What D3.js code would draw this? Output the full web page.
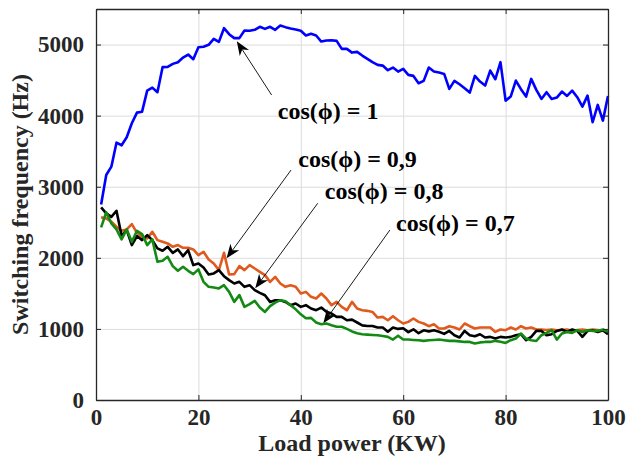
<!DOCTYPE html>
<html>
<head>
<meta charset="utf-8">
<script src="https://cdn.jsdelivr.net/npm/d3@7"></script>
<style>
  body { margin: 0; background: #fff; }
  svg text { font-family: "Liberation Serif", "Times New Roman", serif; font-weight: bold; }
</style>
</head>
<body>
<svg id="chart" width="627" height="466"></svg>
<script>
// load power (KW), one point per kW
var loadPower = d3.range(1, 101);

var xTicks = [0, 20, 40, 60, 80, 100];
var yTicks = [0, 1000, 2000, 3000, 4000, 5000];

// switching frequency (Hz) for each power factor
var fCos10 = [2750, 3165, 3282, 3620, 3583, 3696, 3893, 4042, 4056, 4352,
  4394, 4330, 4682, 4686, 4728, 4752, 4817, 4859, 4794, 4963,
  4968, 4996, 5080, 5038, 5230, 5146, 5090, 5090, 5197, 5193,
  5207, 5250, 5221, 5250, 5207, 5268, 5245, 5225, 5211, 5193,
  5127, 5151, 5127, 5042, 5056, 5061, 5052, 4939, 4939, 4887,
  4897, 4845, 4798, 4752, 4714, 4704, 4639, 4676, 4620, 4658,
  4573, 4559, 4456, 4489, 4676, 4620, 4606, 4587, 4376, 4489,
  4442, 4386, 4324, 4559, 4479, 4423, 4634, 4512, 4752, 4211,
  4268, 4493, 4372, 4268, 4517, 4362, 4235, 4330, 4235, 4254,
  4338, 4277, 4352, 4259, 4127, 4282, 3907, 4151, 3930, 4277];

var fCos09 = [2569, 2555, 2507, 2437, 2380, 2400, 2475, 2352, 2296, 2273,
  2366, 2249, 2225, 2202, 2155, 2179, 2141, 2141, 2118, 2038,
  2085, 1977, 1921, 1827, 2070, 1766, 1770, 1883, 1827, 1897,
  1850, 1803, 1756, 1662, 1732, 1639, 1592, 1615, 1592, 1498,
  1521, 1451, 1428, 1498, 1428, 1334, 1380, 1310, 1263, 1380,
  1287, 1263, 1254, 1239, 1160, 1169, 1122, 1178, 1122, 1076,
  1099, 1146, 1099, 1076, 1038, 1066, 1006, 1006, 1038, 1020,
  992, 1076, 1038, 1006, 1020, 1020, 1020, 958, 992, 982,
  1020, 992, 1038, 1006, 1020, 992, 992, 985, 990, 980,
  985, 990, 975, 985, 990, 980, 990, 985, 975, 960];

var fCos08 = [2709, 2625, 2577, 2662, 2310, 2390, 2179, 2306, 2249, 2320,
  2249, 2132, 2099, 2155, 2070, 2118, 2024, 2108, 1897, 1921,
  1865, 1766, 1780, 1827, 1742, 1686, 1639, 1662, 1592, 1615,
  1545, 1507, 1474, 1380, 1404, 1404, 1380, 1334, 1357, 1310,
  1334, 1287, 1263, 1300, 1240, 1216, 1169, 1169, 1122, 1130,
  1090, 1050, 1040, 1040, 1020, 1020, 960, 1020, 1000, 1010,
  955, 995, 940, 980, 965, 980, 960, 930, 972, 911,
  879, 972, 911, 897, 925, 879, 888, 864, 888, 879,
  888, 911, 925, 841, 888, 972, 972, 911, 925, 972,
  992, 958, 992, 972, 888, 972, 982, 958, 982, 925];

var fCos07 = [2428, 2639, 2484, 2400, 2259, 2400, 2225, 2380, 2334, 2179,
  2259, 1944, 1958, 2014, 1883, 1817, 1873, 1817, 1770, 1837,
  1662, 1592, 1583, 1569, 1615, 1521, 1380, 1475, 1310, 1348,
  1394, 1300, 1239, 1320, 1370, 1404, 1390, 1334, 1275, 1205,
  1150, 1155, 1090, 1066, 1076, 1052, 1030, 1030, 1000, 965,
  940, 925, 920, 915, 911, 900, 888, 850, 905, 850,
  850, 845, 841, 832, 841, 845, 850, 841, 832, 832,
  825, 817, 817, 794, 810, 817, 817, 832, 820, 803,
  841, 864, 935, 864, 841, 830, 911, 944, 982, 850,
  935, 958, 944, 982, 958, 982, 972, 972, 992, 958];

var seriesNames = ["1", "0,9", "0,8", "0,7"];
var seriesColors = ["#0000ff", "#e05a1e", "#000000", "#138a13"];

// annotation arrows: [label x, label y, tail x, tail y, tip x, tip y] in data units
var notes = [
  [35.5, 3950, 34.3, 4290, 27.5, 5048],
  [39.5, 3280, 38.1, 3235, 25.5, 1993],
  [44.7, 2827, 43.3, 2767, 31.1, 1571],
  [58.6, 2377, 57.4, 2391, 44.4, 1079]
];

var svg = d3.select("#chart");
var margin = { top: 9, right: 19, bottom: 66, left: 96 };
var width = 627 - margin.left - margin.right;
var height = 466 - margin.top - margin.bottom;
var axisColor = "#262626";

var g = svg.append("g").attr("transform", "translate(" + margin.left + "," + margin.top + ")");

var x = d3.scaleLinear().domain([0, 100]).range([0, width]);
var y = d3.scaleLinear().domain([0, 5500]).range([height, 0]);

// grid
g.append("g")
  .attr("transform", "translate(0," + height + ")")
  .call(d3.axisBottom(x).tickValues(xTicks).tickSize(-height).tickFormat(""))
  .call(a => a.select(".domain").remove())
  .call(a => a.selectAll("line").attr("stroke", "#dcdcdc").attr("stroke-width", 1));
g.append("g")
  .call(d3.axisLeft(y).tickValues(yTicks).tickSize(-width).tickFormat(""))
  .call(a => a.select(".domain").remove())
  .call(a => a.selectAll("line").attr("stroke", "#dcdcdc").attr("stroke-width", 1));

// series
var allSeries = [fCos10, fCos09, fCos08, fCos07];
var line = d3.line()
  .x((d, i) => x(loadPower[i]))
  .y(d => y(d));

g.selectAll(".series")
  .data(allSeries)
  .enter()
  .append("path")
  .attr("class", "series")
  .attr("d", d => line(d))
  .attr("fill", "none")
  .attr("stroke", (d, i) => seriesColors[i])
  .attr("stroke-width", 2.6)
  .attr("stroke-linejoin", "round");

// axes with inward ticks, box on all sides
function styleAxis(a) {
  a.select(".domain").attr("stroke", axisColor).attr("stroke-width", 1.3);
  a.selectAll(".tick line").attr("stroke", axisColor);
  a.selectAll("text").attr("fill", axisColor).style("font-size", "23px");
}

g.append("g")
  .attr("transform", "translate(0," + height + ")")
  .call(d3.axisBottom(x).tickValues(xTicks).tickSize(-5).tickSizeOuter(0).tickPadding(9).tickFormat(d3.format("d")))
  .call(styleAxis);
g.append("g")
  .call(d3.axisTop(x).tickValues(xTicks).tickSize(-5).tickSizeOuter(0).tickFormat(""))
  .call(styleAxis);
g.append("g")
  .call(d3.axisLeft(y).tickValues(yTicks).tickSize(-5).tickSizeOuter(0).tickPadding(12).tickFormat(d3.format("d")))
  .call(styleAxis);
g.append("g")
  .attr("transform", "translate(" + width + ",0)")
  .call(d3.axisRight(y).tickValues(yTicks).tickSize(-5).tickSizeOuter(0).tickFormat(""))
  .call(styleAxis);

// axis titles
svg.append("text")
  .attr("x", margin.left + width / 2)
  .attr("y", 451)
  .attr("text-anchor", "middle")
  .attr("fill", axisColor)
  .style("font-size", "24px")
  .text("Load power (KW)");

svg.append("text")
  .attr("transform", "translate(28," + (margin.top + height / 2) + ") rotate(-90)")
  .attr("text-anchor", "middle")
  .attr("fill", axisColor)
  .style("font-size", "24px")
  .text("Switching frequency (Hz)");

// annotations
var ann = g.append("g");
notes.forEach(function(n, i) {
  var x0 = x(n[2]), y0 = y(n[3]), x1 = x(n[4]), y1 = y(n[5]);
  var ang = Math.atan2(y1 - y0, x1 - x0);
  var len = 14, half = 5.5, notch = 10;
  var ca = Math.cos(ang), sa = Math.sin(ang);
  function pt(along, side) {
    return [x1 - along * ca - side * sa, y1 - along * sa + side * ca];
  }
  ann.append("line")
    .attr("x1", x0).attr("y1", y0)
    .attr("x2", pt(notch, 0)[0]).attr("y2", pt(notch, 0)[1])
    .attr("stroke", "#000").attr("stroke-width", 0.9);
  ann.append("path")
    .attr("d", "M" + [x1, y1] + "L" + pt(len, half) + "L" + pt(notch, 0) + "L" + pt(len, -half) + "Z")
    .attr("fill", "#000");
  ann.append("text")
    .attr("x", x(n[0]))
    .attr("y", y(n[1]))
    .attr("fill", "#000")
    .style("font-size", "24px")
    .text("cos(\u03D5) = " + seriesNames[i]);
});
</script>
</body>
</html>
